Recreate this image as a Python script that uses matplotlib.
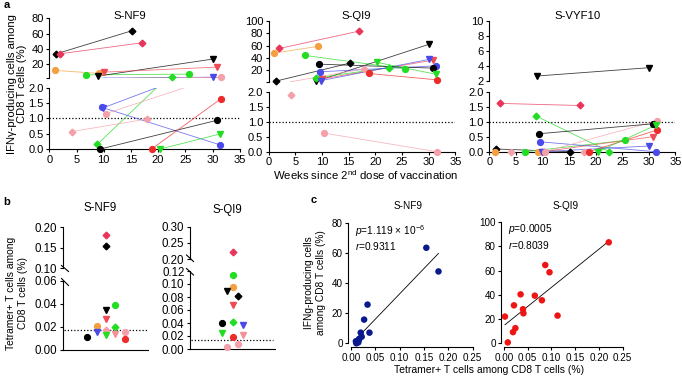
import numpy as np
import matplotlib
matplotlib.use("Agg")
import matplotlib.pyplot as plt
from matplotlib.lines import Line2D

plt.rcParams['font.family'] = ['Liberation Sans', 'DejaVu Sans']
plt.rcParams['font.size'] = 7
plt.rcParams['mathtext.fontset'] = 'custom'
plt.rcParams['mathtext.rm'] = 'Liberation Sans'
plt.rcParams['mathtext.it'] = 'Liberation Sans:italic'
plt.rcParams['axes.linewidth'] = 0.8
for k in ['xtick', 'ytick']:
    plt.rcParams[k + '.major.size'] = 2.5
    plt.rcParams[k + '.major.width'] = 0.8
    plt.rcParams[k + '.major.pad'] = 1.5

# ---- panel a: one entry per donor ----
donor_colors = ['#000000', '#e8365a', '#f5a040', '#22dd22', '#000000', '#f04a55',
                '#22dd22', '#4a4ae8', '#4a4ae8', '#f4a0aa', '#f4a0aa', '#000000',
                '#ee2b2b', '#22dd22']
donor_markers = ['D', 'D', 'o', 'o', 'v', 'v', 'D', 'v', 'o', 'D', 'o', 'o', 'o', 'v']
week_first = [1.3, 2.0, 1.0, 6.8, 8.9, 10.0, 8.8, 9.9, 9.6, 4.1, 10.4, 9.4, 18.8, 20.4]
week_last = [15.2, 17.0, 9.2, 25.6, 30.0, 30.8, 22.6, 30.0, 31.3, 17.9, 31.5, 30.8, 31.5, 31.3]

nf9_first = [33.4, 33.4, 11.6, 5.8, 4.1, 9.3, 0.15, 1.35, 1.37, 0.57, 1.16, 0.0, 0.0, 0.0]
nf9_last = [63.7, 47.8, 7.6, 6.7, 26.4, 15.9, 2.5, 2.7, 0.14, 0.98, 2.4, 0.94, 1.64, 0.49]
qi9_first = [2.8, 55.4, 47.9, 44.2, 2.8, 6.6, 8.0, 3.9, 17.9, 1.9, 0.62, 30.2, 15.2, 32.9]
qi9_last = [31.8, 83.4, 58.7, 22.6, 61.9, 36.5, 24.8, 37.7, 27.5, 22.6, 0.0, 23.8, 5.0, 14.1]
vyf10_first = [0.09, 1.61, 0.0, 0.0, 2.62, 0.0, 1.19, 0.0, 0.33, 0.0, 0.0, 0.6, 0.0, 0.0]
vyf10_last = [0.0, 1.54, 0.0, 0.38, 3.73, 0.5, 0.0, 0.19, 0.0, 0.0, 1.03, 0.93, 0.72, 0.88]

# ---- panel b: tetramer+ frequencies ----
b_nf9_vals = [0.180, 0.155, 0.035, 0.027, 0.039, 0.020, 0.021, 0.016, 0.0176, 0.0126,
              0.0138, 0.0156, 0.0097, 0.0112]
b_nf9_colors = ['#e8365a', '#000000', '#000000', '#f04a55', '#22dd22', '#22dd22', '#f5a040',
                '#4a4ae8', '#f4a0aa', '#22dd22', '#f4909a', '#f4a0aa', '#ee2b2b', '#000000']
b_nf9_markers = ['D', 'D', 'v', 'v', 'o', 'D', 'o', 'v', 'D', 'v', 'v', 'o', 'o', 'o']
b_nf9_slot = [0, 0, 0, 0, 1, 1, -1, -1, 0, 0, 1, 2, 2, -2]

b_qi9_vals = [0.221, 0.114, 0.096, 0.089, 0.081, 0.067, 0.0395, 0.041, 0.0374, 0.0246,
              0.019, 0.022, 0.0077, 0.003]
b_qi9_colors = ['#e8365a', '#22dd22', '#f5a040', '#000000', '#000000', '#f04a55', '#000000',
                '#22dd22', '#4a4ae8', '#22dd22', '#ee2b2b', '#f4909a', '#f4a0aa', '#f4a0aa']
b_qi9_markers = ['D', 'o', 'o', 'v', 'D', 'v', 'o', 'D', 'v', 'v', 'o', 'v', 'o', 'o']
b_qi9_slot = [0, 0, 0, -1, 1, 0, -2, 0, 2, -2, 0, 2, 1, -1]

# ---- panel c: correlation ----
c_nf9_tet = [0.155, 0.180, 0.034, 0.027, 0.038, 0.020, 0.022, 0.016, 0.014, 0.012,
             0.010, 0.017, 0.011, 0.015]
c_nf9_ifn = [63.7, 47.9, 25.8, 15.8, 7.1, 7.1, 4.4, 2.2, 1.5, 1.5, 1.3, 3.0, 0.0, 0.6]
c_qi9_tet = [0.221, 0.087, 0.096, 0.035, 0.065, 0.080, 0.021, 0.040, 0.041, 0.113,
             0.002, 0.024, 0.019, 0.008]
c_qi9_ifn = [83.4, 64.6, 58.6, 40.3, 39.2, 35.4, 31.2, 28.0, 24.6, 22.7, 21.9, 12.3, 9.0, 0.5]

W, H = 682, 376
fig = plt.figure(figsize=(W / 100, H / 100), dpi=100)


def box(x0, y0, x1, y1):
    # pixel box, origin top-left -> figure rect
    return [x0 / W, 1 - y1 / H, (x1 - x0) / W, (y1 - y0) / H]


def ftext(x, y, s, **kw):
    fig.text(x / W, 1 - y / H, s, **kw)


def fline(x0, y0, x1, y1):
    fig.add_artist(Line2D([x0 / W, x1 / W], [1 - y0 / H, 1 - y1 / H],
                          transform=fig.transFigure, color='k', lw=0.8))


# ================= panel a =================
a_panels = [
    ('S-NF9', nf9_first, nf9_last, (49.3, 239.7), (18.3, 77.7), (88, 149), 80,
     [2, 20, 40, 60, 80], ['', '20', '40', '60', '80'], (130, 16)),
    ('S-QI9', qi9_first, qi9_last, (268.7, 455.3), (20.7, 81.7), (91.7, 151.7), 100,
     [2, 20, 40, 60, 80, 100], ['', '20', '40', '60', '80', '100'], (356, 16)),
    ('S-VYF10', vyf10_first, vyf10_last, (489.3, 675.3), (20.7, 80.7), (91.7, 151.7), 10,
     [2, 4, 6, 8, 10], ['2', '4', '6', '8', '10'], (578, 16)),
]

for title, first, last, xs, ys_top, ys_bot, ytop, yt, ytl, tpos in a_panels:
    ax_t = fig.add_axes(box(xs[0], ys_top[0], xs[1], ys_top[1]))
    ax_b = fig.add_axes(box(xs[0], ys_bot[0], xs[1], ys_bot[1]))
    for ax in (ax_t, ax_b):
        ax.set_xlim(0, 35)
        ax.spines['top'].set_visible(False)
        ax.spines['right'].set_visible(False)
        ax.patch.set_alpha(0)
        ax.tick_params(labelsize=8)
    ax_t.set_ylim(2, ytop)
    ax_t.spines['bottom'].set_visible(False)
    ax_t.set_xticks([])
    ax_t.set_yticks(yt)
    ax_t.set_yticklabels(ytl)
    ax_b.set_ylim(0, 2)
    ax_b.set_yticks([0, 0.5, 1.0, 1.5, 2.0])
    ax_b.set_yticklabels(['0.0', '0.5', '1.0', '1.5', '2.0'])
    ax_b.set_xticks(range(0, 36, 5))
    ax_b.axhline(1.0, color='k', ls=(0, (1, 1.6)), lw=0.9, zorder=1)

    for i in range(len(first)):
        xx = [week_first[i], week_last[i]]
        yy = [first[i], last[i]]
        for ax in (ax_t, ax_b):
            ax.plot(xx, yy, color=donor_colors[i], lw=0.6, alpha=0.75, zorder=2)
        for x, y in zip(xx, yy):
            ax = ax_b if y <= 2 else ax_t
            ax.plot(x, y, marker=donor_markers[i], color=donor_colors[i],
                    ms=3.4 if donor_markers[i] == 'D' else 4.2, ls='none',
                    clip_on=False, zorder=3)
    ftext(tpos[0], tpos[1], title, ha='center', va='center', fontsize=8.2)

ftext(4, 5, 'a', fontsize=8, weight='bold', va='center')
ftext(17, 84, 'IFN\u03b3-producing cells among\nCD8 T cells (%)', rotation=90,
      ha='center', va='center', fontsize=8.1, linespacing=1.1)
ftext(365, 175, r'Weeks since 2$^{\rm nd}$ dose of vaccination', ha='center',
      va='center', fontsize=8.2)

# ================= panel b =================
b_panels = [
    ('S-NF9', b_nf9_vals, b_nf9_colors, b_nf9_markers, b_nf9_slot, (62.7, 148.3),
     (227, 268.3), (280.7, 350), (0.10, 0.20), (0, 0.06),
     [0.10, 0.15, 0.20], [0, 0.02, 0.04, 0.06], 0.017, 0.109, 0.506, (100, 208)),
    ('S-QI9', b_qi9_vals, b_qi9_colors, b_qi9_markers, b_qi9_slot, (190, 275),
     (226.7, 259), (271, 349), (0.20, 0.30), (0, 0.12),
     [0.20, 0.25, 0.30], [0, 0.02, 0.04, 0.06, 0.08, 0.10, 0.12], 0.0144, 0.059, 0.5,
     (227, 210)),
]

for title, vals, cols, mks, slot, xs, ys_up, ys_lo, lim_up, lim_lo, t_up, t_lo, cut, \
        step, mid, tpos in b_panels:
    ax_u = fig.add_axes(box(xs[0], ys_up[0], xs[1], ys_up[1]))
    ax_l = fig.add_axes(box(xs[0], ys_lo[0], xs[1], ys_lo[1]))
    for ax in (ax_u, ax_l):
        ax.set_xlim(0, 1)
        ax.spines['top'].set_visible(False)
        ax.spines['right'].set_visible(False)
        ax.set_xticks([])
        ax.patch.set_alpha(0)
        ax.tick_params(labelsize=8.3)
    ax_u.spines['bottom'].set_visible(False)
    ax_u.set_ylim(*lim_up)
    ax_u.set_yticks(t_up)
    ax_u.set_yticklabels(['%.2f' % t for t in t_up])
    ax_l.set_ylim(*lim_lo)
    ax_l.set_yticks(t_lo)
    ax_l.set_yticklabels(['%.2f' % t for t in t_lo])
    ax_l.plot([0.01, 0.98], [cut, cut], color='k', ls=(0, (1, 1.6)), lw=0.9, zorder=1)
    for v, c, m, s in zip(vals, cols, mks, slot):
        ax = ax_u if v > lim_lo[1] else ax_l
        ax.plot(mid + s * step, v, marker=m, color=c, ms=3.4 if m == 'D' else 4.2,
                ls='none', clip_on=False, zorder=3)
    ftext(tpos[0], tpos[1], title, ha='center', va='center', fontsize=8.3)

# axis break marks
fline(61.5, 265.5, 68.5, 271.5)
fline(61.5, 278.5, 68.5, 285.5)
fline(186.5, 255, 193.5, 261.5)
fline(186.5, 268.5, 193.5, 275)

ftext(3, 202, 'b', fontsize=8, weight='bold', va='center')
ftext(17, 293, 'Tetramer+ T cells among\nCD8 T cells (%)', rotation=90,
      ha='center', va='center', fontsize=7.4, linespacing=1.15)

# ================= panel c =================
c_panels = [
    ('S-NF9', c_nf9_tet, c_nf9_ifn, '#0a1a8c', (351, 472.5), (223.3, 343.3), 80,
     r'$p$=1.119 × 10$^{-6}$', r'$r$=0.9311', (408, 206)),
    ('S-QI9', c_qi9_tet, c_qi9_ifn, '#ee1515', (504, 622.5), (222.3, 343), 100,
     r'$p$=0.0005', r'$r$=0.8039', (566, 206)),
]

for title, tet, ifn, col, xs, ys, ymax, ptxt, rtxt, tpos in c_panels:
    ax = fig.add_axes(box(xs[0], ys[0], xs[1], ys[1]))
    ax.set_xlim(0, 0.25)
    ax.set_ylim(0, ymax)
    ax.spines['top'].set_visible(False)
    ax.spines['right'].set_visible(False)
    ax.spines['left'].set_position(('outward', 2))
    ax.spines['bottom'].set_position(('outward', 3))
    ax.patch.set_alpha(0)
    ax.tick_params(labelsize=7.1)
    ax.set_xticks([0, 0.05, 0.10, 0.15, 0.20, 0.25])
    ax.set_xticklabels(['0.00', '0.05', '0.10', '0.15', '0.20', '0.25'])
    ax.set_yticks(range(0, ymax + 1, 20))
    ax.scatter(tet, ifn, s=22, color=col, edgecolors='none', clip_on=False, zorder=3)
    k, b = np.polyfit(tet, ifn, 1)
    xx = np.array([min(tet), max(tet)])
    ax.plot(xx, k * xx + b, color='k', lw=0.6, zorder=2)
    ax.text(0.03, 1.0, ptxt, transform=ax.transAxes, va='top', fontsize=7.3)
    ax.text(0.03, 0.86, rtxt, transform=ax.transAxes, va='top', fontsize=7.3)
    ftext(tpos[0], tpos[1], title, ha='center', va='center', fontsize=7.2)

ftext(311, 200, 'c', fontsize=8, weight='bold', va='center')
ftext(315, 283, 'IFNg-producing cells\namong CD8 T cells (%)', rotation=90,
      ha='center', va='center', fontsize=7.3, linespacing=1.15)
ftext(489, 370, 'Tetramer+ T cells among CD8 T cells (%)', ha='center', va='center',
      fontsize=7.5)

fig.savefig('out.png', dpi=100)
